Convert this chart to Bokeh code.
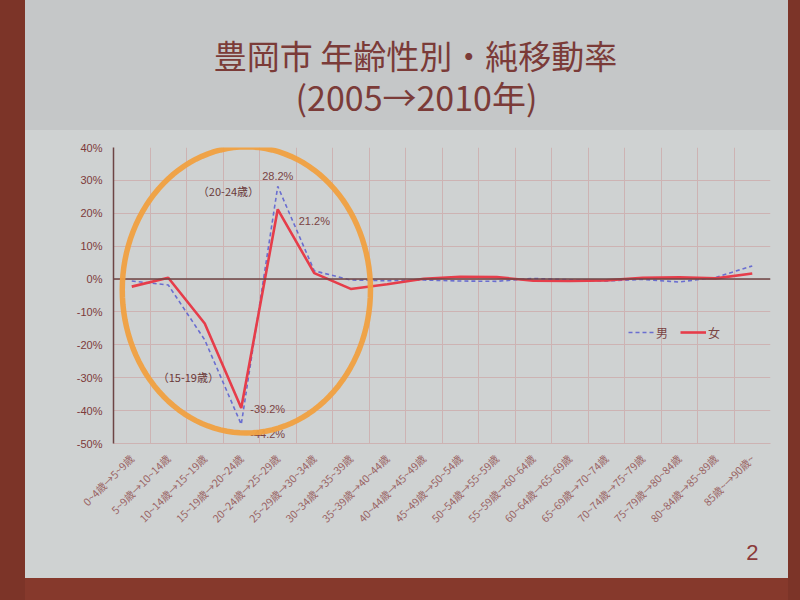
import numpy as np
from bokeh.plotting import figure
from bokeh.models import (Range1d, FixedTicker, Span, Label, PolyAnnotation, Title,
                          PrintfTickFormatter, CustomJSTickFormatter, ColumnDataSource, Spacer)
from bokeh.layouts import row, column
from bokeh.core.properties import value
from bokeh.embed import file_html
from bokeh.resources import INLINE

# ---------------- data ----------------
categories = ["0~4歳→5~9歳", "5~9歳→10~14歳", "10~14歳→15~19歳", "15~19歳→20~24歳",
              "20~24歳→25~29歳", "25~29歳→30~34歳", "30~34歳→35~39歳", "35~39歳→40~44歳",
              "40~44歳→45~49歳", "45~49歳→50~54歳", "50~54歳→55~59歳", "55~59歳→60~64歳",
              "60~64歳→65~69歳", "65~69歳→70~74歳", "70~74歳→75~79歳", "75~79歳→80~84歳",
              "80~84歳→85~89歳", "85歳~→90歳~"]
male = [-0.6, -1.8, -18.5, -44.2, 28.2, 2.5, -0.3, -0.5, -0.3, -0.6, -0.7, 0.2,
        -0.2, -0.6, -0.1, -0.9, 0.5, 4.0]
female = [-2.3, 0.4, -13.5, -39.2, 21.2, 1.8, -3.0, -1.6, 0.1, 0.7, 0.6, -0.5,
          -0.6, -0.4, 0.4, 0.5, 0.2, 1.7]
y_ticks = [-50, -40, -30, -20, -10, 0, 10, 20, 30, 40]
series_names = ["男", "女"]
title_lines = ["豊岡市 年齢性別・純移動率", "(2005→2010年)"]
page_no = "2"

TEXT = "#7b3b38"
CJK = "Noto Sans CJK JP"
SLIDE_TOP = "#c5c7c8"
SLIDE = "#cfd2d2"
BROWN = "#7c3428"

n = len(categories)
xs = np.arange(n) + 0.5

# ---------------- title strip (top of the slide) ----------------
tf = figure(width=763, height=130, x_range=Range1d(113, 770), y_range=Range1d(130, 0),
            output_backend="svg", toolbar_location=None,
            styles={"background-color": SLIDE_TOP},
            min_border=0, min_border_left=0, min_border_right=0, min_border_top=0, min_border_bottom=0)
tf.axis.visible = False
tf.grid.visible = False
tf.outline_line_color = None
tf.border_fill_color = SLIDE_TOP
tf.background_fill_alpha = 0
tf.add_layout(Label(x=415, y=54, text=title_lines[0], text_align="center", text_baseline="middle",
                    text_font=CJK, text_font_size="33px", text_color=TEXT))
tf.add_layout(Label(x=416, y=96, text=title_lines[1], text_align="center", text_baseline="middle",
                    text_font=CJK, text_font_size="34px", text_color=TEXT))

# ---------------- chart ----------------
p = figure(width=763, height=448, x_range=Range1d(0, n), y_range=Range1d(-50, 40),
           output_backend="svg", toolbar_location=None,
           styles={"background-color": SLIDE},
           min_border_left=88, min_border_right=18, min_border_top=17, min_border_bottom=135)
p.border_fill_color = SLIDE
p.background_fill_color = SLIDE
p.outline_line_color = None

p.yaxis.ticker = FixedTicker(ticks=y_ticks)
p.yaxis.formatter = PrintfTickFormatter(format="%d%%")
p.yaxis.axis_line_color = "#6d4545"
p.yaxis.axis_line_width = 1.5
p.yaxis.major_tick_line_color = None
p.yaxis.minor_tick_line_color = None
p.yaxis.major_label_text_font = "Liberation Sans"
p.yaxis.major_label_text_font_size = "11px"
p.yaxis.major_label_text_color = "#7d3a3a"
p.yaxis.major_label_standoff = 5

p.xaxis.ticker = FixedTicker(ticks=list(xs))
p.xaxis.formatter = CustomJSTickFormatter(args=dict(labels=categories),
                                          code="return labels[Math.floor(tick)] || '';")
p.xaxis.major_label_orientation = np.pi / 4
p.xaxis.axis_line_color = "#cdb3b3"
p.xaxis.major_tick_line_color = None
p.xaxis.minor_tick_line_color = None
p.xaxis.major_label_text_font = CJK
p.xaxis.major_label_text_font_size = "10.5px"
p.xaxis.major_label_text_color = "#9a6464"
p.xaxis.major_label_standoff = 7

p.xgrid.ticker = FixedTicker(ticks=list(range(n + 1)))
p.xgrid.grid_line_color = "#cdb3b3"
p.ygrid.grid_line_color = "#cdb3b3"

p.add_layout(Span(location=0, dimension="width", line_color="#6d4545", line_width=1.5))

src = ColumnDataSource(dict(x=xs, male=male, female=female))
p.line("x", "male", source=src, line_color="#6a6ed0", line_width=1.6, line_dash="4 3",
       legend_label=series_names[0])
p.line("x", "female", source=src, line_color="#e63d4a", line_width=2.6,
       legend_label=series_names[1])

leg = p.legend[0]
leg.orientation = "horizontal"
leg.location = (505, 91)
leg.background_fill_alpha = 0
leg.border_line_alpha = 0
leg.label_text_font = CJK
leg.label_text_font_size = "12px"
leg.label_text_color = "#7a4444"
leg.glyph_width = 26
leg.label_standoff = 2
leg.spacing = 4

i_max_m = int(np.argmax(male)); i_min_m = int(np.argmin(male))
i_max_f = int(np.argmax(female)); i_min_f = int(np.argmin(female))
lab_style = dict(text_font=value("Liberation Sans"), text_font_size="11px", text_color="#7a4444")
p.text(x=[xs[i_max_m]], y=[male[i_max_m]], text=[f"{male[i_max_m]:.1f}%"],
       text_align="center", text_baseline="bottom", y_offset=-4, **lab_style)
p.text(x=[xs[i_max_f]], y=[female[i_max_f]], text=[f"{female[i_max_f]:.1f}%"],
       text_align="left", text_baseline="middle", x_offset=21, y_offset=12, **lab_style)
p.text(x=[xs[i_min_f]], y=[female[i_min_f]], text=[f"{female[i_min_f]:.1f}%"],
       text_align="left", text_baseline="middle", x_offset=9, y_offset=1, **lab_style)
p.text(x=[xs[i_min_m]], y=[male[i_min_m]], text=[f"{male[i_min_m]:.1f}%"],
       text_align="left", text_baseline="middle", x_offset=9, y_offset=10, **lab_style)

p.add_layout(Label(x=3.15, y=26.9, text="（20-24歳）", text_align="center", text_baseline="middle",
                   text_font=CJK, text_font_size="11px", text_color="#6a3a3a"))
p.add_layout(Label(x=2.05, y=-29.9, text="（15-19歳）", text_align="center", text_baseline="middle",
                   text_font=CJK, text_font_size="11px", text_color="#6a3a3a"))

t = np.linspace(0, 2 * np.pi, 121)
ex = 3.64 + 3.4 * np.cos(t)
ey = -3.3 + 43.5 * np.sin(t)
p.add_layout(PolyAnnotation(xs=list(ex), ys=list(ey), fill_alpha=0,
                            line_color="#f0a040", line_width=5.5, line_alpha=0.95))

p.add_layout(Title(text=page_no, align="right", offset=12, standoff=18,
                   text_font="Liberation Sans", text_font_size="22px", text_font_style="normal",
                   text_color="#8b3a3a"), "below")

# ---------------- slide surroundings ----------------
left_edge = Spacer(width=25, height=600, styles={"background-color": BROWN})
right_edge = Spacer(width=12, height=600, styles={"background-color": BROWN})
bottom_edge = Spacer(width=763, height=22, styles={"background-color": "#86392c"})

page = row(left_edge, column(tf, p, bottom_edge, spacing=0), right_edge, spacing=0)

open("out.html", "w").write(file_html(page, INLINE))
